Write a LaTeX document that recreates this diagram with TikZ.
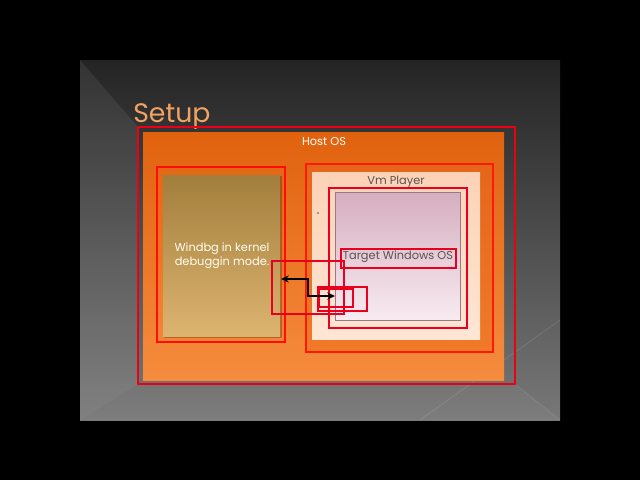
\documentclass[tikz,border=0pt]{standalone}
\usepackage{fontspec}
\setmainfont{Poppins}
\usetikzlibrary{arrows.meta}
\definecolor{slidetop}{HTML}{242424}
\definecolor{slidemid}{HTML}{343434}
\definecolor{slidebot}{HTML}{787878}
\definecolor{titleorange}{HTML}{F2A262}
\definecolor{hosttop}{HTML}{E0620E}
\definecolor{hostbot}{HTML}{F68C3E}
\definecolor{ringtop}{HTML}{E4661A}
\definecolor{ringbot}{HTML}{F07A2A}
\definecolor{goldtop}{HTML}{A27E3C}
\definecolor{goldbot}{HTML}{DDB470}
\definecolor{peachtop}{HTML}{FCD2B6}
\definecolor{peachbot}{HTML}{FFE6D4}
\definecolor{pinktop}{HTML}{D6AEBF}
\definecolor{pinkbot}{HTML}{F7EBF0}
\definecolor{markred}{HTML}{E8001E}
\definecolor{textgray}{HTML}{5A5252}
\tikzset{
  markbox/.style={draw=markred, line width=0.8pt},
  boxtext/.style={font=\fontsize{8.1}{10}\selectfont, align=center, inner sep=0pt},
}
\begin{document}
\begin{tikzpicture}[x=0.025cm, y=-0.025cm]
\useasboundingbox (0,0) rectangle (640,480);
\fill[black] (0,0) rectangle (640,480);
% slide background
\shade[top color=slidetop, middle color=slidemid, bottom color=slidebot] (80,60) rectangle (560,420);
\fill[white, opacity=0.07] (80,60) -- (138,127) -- (138,384) -- (80,420) -- cycle;
\fill[white, opacity=0.04] (80,420) -- (138,384) -- (515,384) -- (560,420) -- cycle;
\draw[white, opacity=0.15] (560,320) -- (420,420);
\draw[white, opacity=0.12] (515,384) -- (560,420);

\node[anchor=base west, inner sep=0pt, text=titleorange, font=\fontsize{19}{22}\selectfont] (title) at (133,122) {Setup};

% host
\shade[top color=hosttop, bottom color=hostbot] (143,132) rectangle (504,380);
\node[boxtext, text=white] (host) at (324,142) {Host OS};

% debugger side
\fill[black, opacity=0.25] (164,176) rectangle (282,338);
\shade[top color=goldtop, bottom color=goldbot] (163,175) rectangle (280,336);
\node[boxtext, text=white!95!yellow] (windbg) at (222,256) {Windbg in kernel\\debuggin mode.};

% vm side
\shade[top color=ringtop, bottom color=ringbot] (306,164) rectangle (493,352);
\shade[top color=peachtop, bottom color=peachbot] (312,172) rectangle (480,339);
\node[boxtext, text=textgray] (vm) at (396,182) {Vm Player};
\fill[black, opacity=0.2] (335,192) rectangle (461,321);
\shade[top color=pinktop, bottom color=pinkbot, draw=pinktop!70!black, line width=0.3pt] (335,192) rectangle (460,320);
\node[boxtext, text=textgray] (target) at (398,257) {Target Windows OS};
\fill[textgray] (318,213) circle (0.8);

% marked regions
\draw[markbox, draw=red!70!purple] (138,127) rectangle (515,384);
\draw[markbox, draw=red!90!orange] (157,167) rectangle (285,342);
\draw[markbox, draw=red!80!orange, line width=1.1pt] (306,164) rectangle (493,352);
\draw[markbox] (329,188) rectangle (467,328);
\draw[markbox] (341,249) rectangle (456,268);
\draw[markbox] (272,261) rectangle (344,314);
\draw[markbox] (318,287) rectangle (367,311);
\draw[markbox] (319,289) rectangle (353,307);

% debug link
\coordinate (dbgport) at (281,279);
\coordinate (vmport) at (335,296);
\draw[{Stealth[length=5.5pt,width=5pt]}-{Stealth[length=5.5pt,width=5pt]}, line width=2pt] (dbgport) -- ++(27,0) |- (vmport);
\end{tikzpicture}
\end{document}
